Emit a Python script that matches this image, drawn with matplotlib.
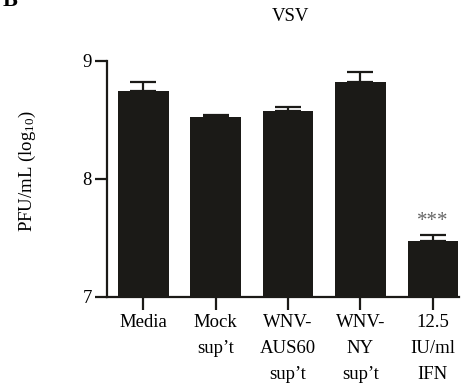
import matplotlib
matplotlib.use("Agg")
import matplotlib.pyplot as plt
import numpy as np

categories = ["Media", "Mock\nsup\u2019t", "WNV-\nAUS60\nsup\u2019t", "WNV-\nNY\nsup\u2019t", "12.5\nIU/ml\nIFN"]
values = [8.748, 8.528, 8.579, 8.825, 7.475]
errors = [0.074, 0.015, 0.030, 0.082, 0.053]
yticks = [7, 8, 9]
annotations = ["", "", "", "", "***"]

plt.rcParams['font.family'] = ['Liberation Serif', 'DejaVu Serif']
plt.rcParams['mathtext.fontset'] = 'custom'
plt.rcParams['mathtext.rm'] = 'Liberation Serif'
plt.rcParams['mathtext.it'] = 'Liberation Serif:italic'

fig = plt.figure(figsize=(4.68, 3.9), dpi=100)
ax = fig.add_axes([0.2286, 0.2385, 0.752, 0.6051])

x = np.arange(len(categories))
color = '#1b1a17'
ax.bar(x, [v - 7 for v in values], bottom=7, width=0.7, color=color, zorder=2)
ax.errorbar(x, values, yerr=[np.zeros(len(values)), errors], fmt='none',
            ecolor=color, elinewidth=1.6, capsize=9.4, capthick=1.6, zorder=3)

for xi, v, e, a in zip(x, values, errors, annotations):
    if a:
        ax.annotate(a, (xi, v + e), xytext=(0, 3), textcoords='offset points',
                    ha='center', va='bottom', fontsize=15, color='#666666')

ax.set_xlim(-0.5, 4.36)
ax.set_ylim(7, 9)
ax.set_yticks(yticks)
ax.set_yticklabels([str(t) for t in yticks])
ax.set_xticks(x)
ax.set_xticklabels(categories, linespacing=1.72)

for s in ['top', 'right']:
    ax.spines[s].set_visible(False)
for s in ['left', 'bottom']:
    ax.spines[s].set_linewidth(1.6)
    ax.spines[s].set_color(color)

ax.tick_params(axis='both', length=9, width=1.6, color=color, labelsize=13.5, pad=3)
ax.tick_params(axis='y', pad=2)

ax.set_title("VSV", fontsize=13.5, pad=29, x=0.52)
fig.text(0.058, 0.56, "PFU/mL (log$_{\\mathrm{10}}$)", rotation=90, ha='center', va='center', fontsize=13.5)
fig.text(0.005, 0.998, "B", fontsize=16, fontweight='bold', ha='left', va='center')

fig.savefig("out.png", dpi=100)
